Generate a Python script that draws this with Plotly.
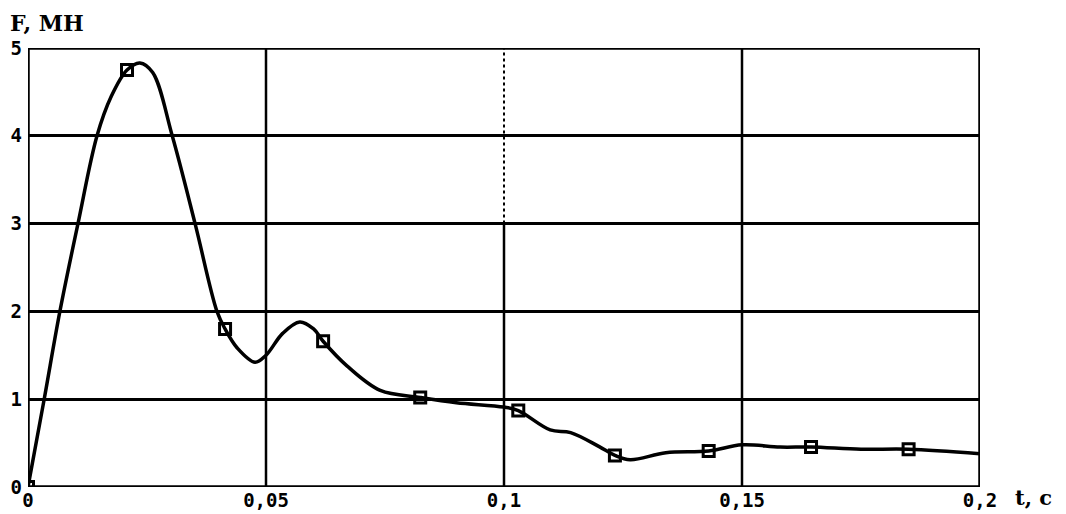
import plotly.graph_objects as go

# Smooth curve
curve_t = [0.0, 0.0034, 0.0067, 0.0105, 0.0145, 0.0175, 0.0208, 0.0235, 0.0262, 0.0303,
           0.0351, 0.0397, 0.0414, 0.044, 0.0477, 0.050, 0.0535, 0.0571, 0.060,
           0.062, 0.067, 0.074, 0.0824, 0.090, 0.100, 0.103, 0.1097, 0.114, 0.120,
           0.1233, 0.1265, 0.134, 0.143, 0.150, 0.158, 0.1645, 0.175, 0.185, 0.200]
curve_F = [0.0, 1.0, 2.0, 3.0, 4.0, 4.45, 4.75, 4.83, 4.72, 4.0,
           3.0, 2.0, 1.8, 1.58, 1.42, 1.5, 1.75, 1.88, 1.8,
           1.66, 1.38, 1.10, 1.02, 0.96, 0.91, 0.87, 0.65, 0.62, 0.46,
           0.36, 0.31, 0.39, 0.41, 0.48, 0.455, 0.455, 0.43, 0.43, 0.38]

# Marked points
mark_t = [0.0, 0.0208, 0.0414, 0.062, 0.0824, 0.103, 0.1233, 0.143, 0.1645, 0.185]
mark_F = [0.0, 4.75, 1.80, 1.66, 1.02, 0.87, 0.36, 0.41, 0.455, 0.43]

x_tick_vals = [0, 0.05, 0.1, 0.15, 0.2]
x_tick_text = ["0", "0,05", "0,1", "0,15", "0,2"]
y_tick_vals = [0, 1, 2, 3, 4, 5]
y_tick_text = ["0", "1", "2", "3", "4", "5"]

fig = go.Figure()
fig.add_trace(go.Scatter(x=curve_t, y=curve_F, mode="lines",
                         line=dict(color="black", width=3.5, shape="spline", smoothing=1.0),
                         hoverinfo="skip", showlegend=False))
fig.add_trace(go.Scatter(x=mark_t, y=mark_F, mode="markers",
                         marker=dict(symbol="square-open", size=11, color="black",
                                     line=dict(color="black", width=3)),
                         showlegend=False))

# vertical grid lines
shapes = []
for xv in [0.05, 0.15]:
    shapes.append(dict(type="line", xref="x", yref="y", x0=xv, x1=xv, y0=0, y1=5,
                       line=dict(color="black", width=2.5), layer="below"))
shapes.append(dict(type="line", xref="x", yref="y", x0=0.1, x1=0.1, y0=0, y1=3,
                   line=dict(color="black", width=2.5), layer="below"))
shapes.append(dict(type="line", xref="x", yref="y", x0=0.1, x1=0.1, y0=3, y1=5,
                   line=dict(color="black", width=2, dash="dot"), layer="below"))
# frame
shapes.append(dict(type="rect", xref="x", yref="y", x0=0, x1=0.2, y0=0, y1=5,
                   line=dict(color="black", width=3.5), layer="above"))

tick_font = dict(family="DejaVu Sans Mono", size=19, color="black", weight="bold")

fig.update_layout(
    width=1058, height=506,
    margin=dict(l=20, r=86, t=40, b=27),
    paper_bgcolor="white", plot_bgcolor="white",
    shapes=shapes,
    font=dict(family="DejaVu Sans Mono", size=18, color="black"),
    xaxis=dict(range=[0, 0.2], tickmode="array", tickvals=x_tick_vals, ticktext=x_tick_text,
               showgrid=False, zeroline=False, showline=False, ticks="",
               automargin=False, tickfont=tick_font),
    yaxis=dict(range=[0, 5], tickmode="array", tickvals=y_tick_vals, ticktext=y_tick_text,
               showgrid=True, gridcolor="black", gridwidth=3, zeroline=False,
               showline=False, ticks="", automargin=False, tickfont=tick_font,
               ticklabelstandoff=5),
    annotations=[
        dict(text="F, MH", xref="paper", yref="paper", x=-0.021, y=1.09,
             xanchor="left", yanchor="top", showarrow=False,
             font=dict(family="DejaVu Serif", size=22, color="black", weight="bold")),
        dict(text="t, c", xref="paper", yref="paper", x=1.078, y=-0.025,
             xanchor="right", yanchor="middle", showarrow=False,
             font=dict(family="DejaVu Serif", size=21, color="black", weight="bold")),
    ],
)

fig.write_html("out.html")
